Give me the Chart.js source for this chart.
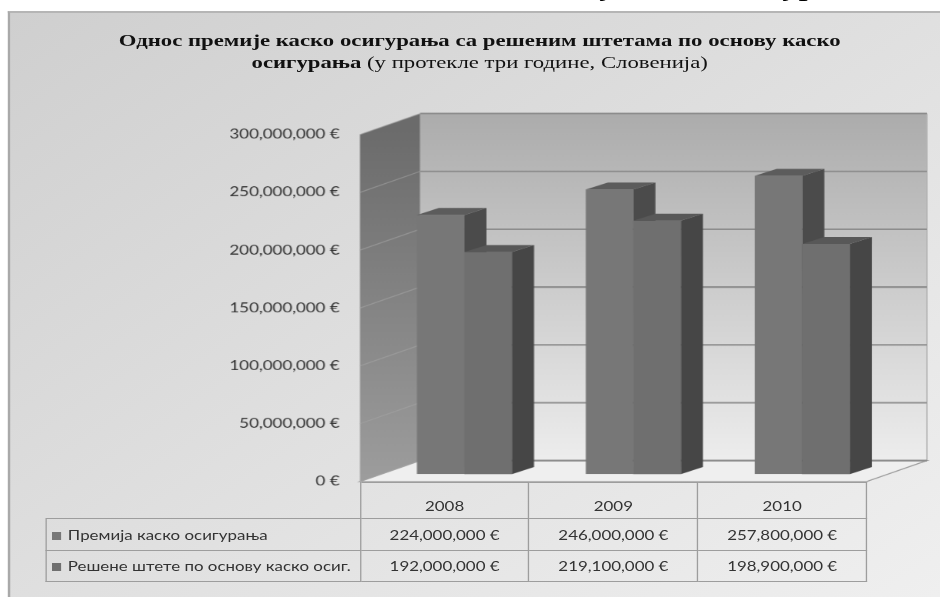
<!DOCTYPE html>
<html lang="sr">
<head>
<meta charset="utf-8">
<title>Каско осигурање, Словенија</title>
<script src="https://cdn.jsdelivr.net/npm/chart.js@4.4.1/dist/chart.umd.min.js"></script>
<style>
  html, body { margin: 0; padding: 0; background: #fff; overflow: hidden; }
  /* the whole sheet is laid out narrow and widened by 1.3 */
  #page { position: relative; width: 723px; height: 597px; overflow: hidden; transform: scaleX(1.3); transform-origin: 0 0; }
  #caption { position: absolute; left: 373px; top: -24.5px; font: italic bold 24px/24px "Liberation Serif", serif; letter-spacing: 1.5px; white-space: nowrap; color: #000; }
  #frame { position: absolute; left: 6px; top: 11px; width: 800px; height: 700px; border-left: 2px solid #a9a9a9; border-top: 2px solid #b5b5b5;
           background: linear-gradient(to bottom right, #cfcfcf 0%, #e0e0e0 45%, #f4f4f4 100%); }
  #title { position: absolute; left: 0; width: 738px; top: 29px; text-align: center; font: 17.5px/22px "Liberation Serif", serif; color: #111; }
  #box { position: absolute; left: 0; top: 0; width: 723px; height: 597px; }
  #table { position: absolute; border-collapse: collapse; table-layout: fixed; font: 13px Lato, "Open Sans", sans-serif; color: #333; }
  #table td { border: 1px solid #9d9d9d; text-align: center; padding: 0; white-space: nowrap; overflow: hidden; }
  #table td.blank { border-top: none; border-left: none; }
  #table tr.head td { vertical-align: bottom; padding-bottom: 4px; }
  #table td.name { text-align: left; padding-left: 4px; }
  .mk { display: inline-block; width: 7px; height: 8px; margin-right: 5px; vertical-align: 0; }
</style>
</head>
<body>
<div id="page">
  <div id="caption">Стање у каско осигурањима</div>
  <div id="frame"></div>
  <div id="title"><b>Однос премије каско осигурања са решеним штетама по основу каско</b><br><b>осигурања</b> (у протекле три године, Словенија)</div>
  <div id="box"><canvas id="chart"></canvas></div>
  <table id="table"></table>
</div>
<script>
'use strict';

const years = ['2008', '2009', '2010'];
const premiums = [224000000, 246000000, 257800000];
const claims = [192000000, 219100000, 198900000];
const seriesNames = ['Премија каско осигурања', 'Решене штете по основу каско осиг.'];
const yMax = 300000000;
const yStep = 50000000;

const seriesColors = ['#777777', '#6f6f6f'];
const sideColors = ['#4b4b4b', '#464646'];
const topColors = ['#5c5c5c', '#585858'];

// oblique offsets of the front edge, back wall and bar depth, relative to the bar faces
const FRONT = { dx: -15.4, dy: 7.5 };
const BACK = { dx: 30.8, dy: -13.5 };
const BAR_DEPTH = { dx: 16.9, dy: -7 };
const TABLE_LEFT = 35.2;

function euro(v) {
    return Number(v).toLocaleString('en-US') + ' €';
}

function poly(ctx, pts, fill, stroke, lw) {
    ctx.beginPath();
    ctx.moveTo(pts[0][0], pts[0][1]);
    for (let i = 1; i < pts.length; i++) ctx.lineTo(pts[i][0], pts[i][1]);
    ctx.closePath();
    if (fill) { ctx.fillStyle = fill; ctx.fill(); }
    if (stroke) { ctx.strokeStyle = stroke; ctx.lineWidth = lw || 1; ctx.stroke(); }
}

function line(ctx, x1, y1, x2, y2, color, lw) {
    ctx.beginPath();
    ctx.moveTo(x1, y1);
    ctx.lineTo(x2, y2);
    ctx.strokeStyle = color;
    ctx.lineWidth = lw;
    ctx.stroke();
}

// data table under the floor, columns follow the category axis
function buildTable(chart) {
    const xs = chart.scales.x, ys = chart.scales.y;
    const step = xs.getPixelForValue(1) - xs.getPixelForValue(0);
    const firstEdge = xs.getPixelForValue(0) - step / 2 + FRONT.dx;
    const labelW = firstEdge - TABLE_LEFT;
    const tbl = document.getElementById('table');
    tbl.style.left = TABLE_LEFT + 'px';
    tbl.style.top = (ys.getPixelForValue(0) + FRONT.dy) + 'px';
    tbl.style.width = (labelW + step * years.length) + 'px';

    let html = '<colgroup><col style="width:' + labelW + 'px">';
    years.forEach(() => { html += '<col style="width:' + step + 'px">'; });
    html += '</colgroup>';
    html += '<tr class="head" style="height:36.5px"><td class="blank"></td>';
    years.forEach(yr => { html += '<td>' + yr + '</td>'; });
    html += '</tr>';
    [premiums, claims].forEach((vals, k) => {
        html += '<tr style="height:' + (k === 0 ? 32 : 30.5) + 'px"><td class="name"><span class="mk" style="background:' + seriesColors[k] + '"></span>' + seriesNames[k] + '</td>';
        vals.forEach(v => { html += '<td>' + euro(v) + '</td>'; });
        html += '</tr>';
    });
    tbl.innerHTML = html;
}

const box3d = {
    id: 'box3d',
    afterLayout(chart) {
        buildTable(chart);
    },
    beforeDatasetsDraw(chart) {
        const { ctx, chartArea: a, scales: { y } } = chart;
        const top = y.getPixelForValue(yMax);
        const bot = y.getPixelForValue(0);
        const fl = a.left + FRONT.dx, fr = a.right + FRONT.dx;
        const bl = a.left + BACK.dx, br = a.right + BACK.dx;
        ctx.save();

        // back wall
        let g = ctx.createLinearGradient(0, top + BACK.dy, 0, bot + BACK.dy);
        g.addColorStop(0, '#acacac');
        g.addColorStop(1, '#ededed');
        poly(ctx, [[bl, top + BACK.dy], [br, top + BACK.dy], [br, bot + BACK.dy], [bl, bot + BACK.dy]], g);
        line(ctx, br, top + BACK.dy, br, bot + BACK.dy, '#b0b0b0', 1);

        // side wall
        g = ctx.createLinearGradient(0, top, 0, bot);
        g.addColorStop(0, '#6b6b6b');
        g.addColorStop(1, '#9c9c9c');
        poly(ctx, [[fl, top + FRONT.dy], [bl, top + BACK.dy], [bl, bot + BACK.dy], [fl, bot + FRONT.dy]], g);

        // floor
        poly(ctx, [[fl, bot + FRONT.dy], [bl, bot + BACK.dy], [br, bot + BACK.dy], [fr, bot + FRONT.dy]], '#efefef', '#9a9a9a', 1);

        // grid lines on both walls
        y.ticks.forEach(t => {
            const p = y.getPixelForValue(t.value);
            line(ctx, bl, p + BACK.dy, br, p + BACK.dy, '#8c8c8c', 1.6);
            line(ctx, fl, p + FRONT.dy, bl, p + BACK.dy, 'rgba(165,165,165,0.6)', 1);
        });
        ctx.restore();
    },
    afterDatasetsDraw(chart) {
        const ctx = chart.ctx;
        const metas = [chart.getDatasetMeta(0), chart.getDatasetMeta(1)];
        ctx.save();
        years.forEach((_, i) => {
            metas.forEach((meta, k) => {
                const { x, y, base, width } = meta.data[i].getProps(['x', 'y', 'base', 'width'], true);
                const l = x - width / 2, r = x + width / 2;
                const dx = BAR_DEPTH.dx, dy = BAR_DEPTH.dy;
                // right bar covers the side of the left one
                if (k > 0) poly(ctx, [[l, y], [r, y], [r, base], [l, base]], seriesColors[k]);
                poly(ctx, [[r, y], [r + dx, y + dy], [r + dx, base + dy], [r, base]], sideColors[k]);
                poly(ctx, [[l, y], [r, y], [r + dx, y + dy], [l + dx, y + dy]], topColors[k]);
            });
        });
        ctx.restore();
    }
};

new Chart(document.getElementById('chart'), {
    type: 'bar',
    data: {
        labels: years,
        datasets: [{
            label: seriesNames[0],
            data: premiums,
            backgroundColor: seriesColors[0],
            borderWidth: 0
        }, {
            label: seriesNames[1],
            data: claims,
            backgroundColor: seriesColors[1],
            borderWidth: 0
        }]
    },
    options: {
        responsive: true,
        maintainAspectRatio: false,
        animation: false,
        devicePixelRatio: 1.3,
        layout: { padding: { left: 142, right: 41.5, top: 127, bottom: 123 } },
        datasets: { bar: { categoryPercentage: 0.563, barPercentage: 1 } },
        plugins: {
            legend: { display: false },
            tooltip: { enabled: false }
        },
        scales: {
            x: { display: false },
            y: {
                min: 0,
                max: yMax,
                ticks: {
                    stepSize: yStep,
                    padding: 31,
                    labelOffset: FRONT.dy,
                    color: '#333',
                    font: { family: 'Lato, "Open Sans", sans-serif', size: 13 },
                    callback: v => euro(v)
                },
                grid: { display: false, drawTicks: false },
                border: { display: false },
                afterFit: scale => { scale.width = 150; }
            }
        }
    },
    plugins: [box3d]
});
</script>
</body>
</html>
